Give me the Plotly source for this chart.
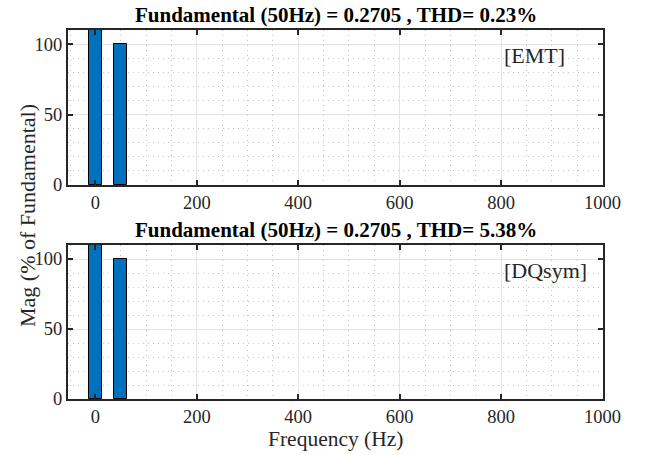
import plotly.graph_objects as go

# Data
freqs = [0, 50]
mag_emt = [150, 100]
mag_dq = [150, 100]
titles = ["Fundamental (50Hz) = 0.2705 , THD= 0.23%",
          "Fundamental (50Hz) = 0.2705 , THD= 5.38%"]
labels = ["[EMT]", "[DQsym]"]
x_ticks = [0, 200, 400, 600, 800, 1000]
y_ticks = [0, 50, 100]

W, H = 648, 455
serif = "Liberation Serif"
dark = "#262626"
bar_color = "#0072BD"

fig = go.Figure()
fig.add_trace(go.Bar(x=freqs, y=mag_emt, width=25, marker=dict(color=bar_color, line=dict(color="black", width=1)),
                     xaxis="x", yaxis="y", showlegend=False))
fig.add_trace(go.Bar(x=freqs, y=mag_dq, width=25, marker=dict(color=bar_color, line=dict(color="black", width=1)),
                     xaxis="x2", yaxis="y2", showlegend=False))

x0, x1 = 68 / W, 603 / W
doms = [(1 - 185 / H, 1 - 30 / H), (1 - 399 / H, 1 - 245 / H)]

def xax(anchor):
    return dict(domain=[x0, x1], range=[-54, 1001], anchor=anchor, tickvals=x_ticks, automargin=False,
                ticks="inside", ticklen=5, tickwidth=1.5, tickcolor=dark, mirror="allticks",
                showline=True, linecolor=dark, linewidth=2, showgrid=True, gridcolor="#e3e3e3", gridwidth=1,
                minor=dict(dtick=50, tick0=0, showgrid=True, gridcolor="#c4c4c4", griddash="1px,4px", gridwidth=1),
                tickfont=dict(family=serif, size=18.5, color=dark), zeroline=False)

def yax(anchor, dom):
    return dict(domain=list(dom), range=[0, 110], anchor=anchor, tickvals=y_ticks, automargin=False,
                ticks="inside", ticklen=5, tickwidth=1.5, tickcolor=dark, mirror="allticks",
                showline=True, linecolor=dark, linewidth=2, showgrid=True, gridcolor="#e3e3e3", gridwidth=1,
                minor=dict(dtick=10, tick0=0, showgrid=True, gridcolor="#c4c4c4", griddash="1px,4px", gridwidth=1),
                tickfont=dict(family=serif, size=18.5, color=dark), zeroline=False)

annotations = []
for i, (t, lab) in enumerate(zip(titles, labels)):
    xa = "x" if i == 0 else "x2"
    ya = "y" if i == 0 else "y2"
    top = doms[i][1]
    annotations.append(dict(text=t, xref="paper", yref="paper", x=(x0 + x1) / 2, y=top + 1 / H,
                            xanchor="center", yanchor="bottom", showarrow=False,
                            font=dict(family=serif, size=21, color="black", weight="bold")))
    annotations.append(dict(text=lab, xref=xa, yref=ya, x=802, y=102, xanchor="left", yanchor="top",
                            showarrow=False, font=dict(family=serif, size=22, color=dark)))

annotations.append(dict(text="Mag (% of Fundamental)", xref="paper", yref="paper", x=27 / W, y=1 - 216 / H,
                        xanchor="center", yanchor="middle", textangle=-90, showarrow=False,
                        font=dict(family=serif, size=22, color=dark)))
annotations.append(dict(text="Frequency (Hz)", xref="paper", yref="paper", x=(x0 + x1) / 2, y=1 - 439 / H,
                        xanchor="center", yanchor="middle", showarrow=False,
                        font=dict(family=serif, size=21.5, color=dark)))

fig.update_layout(
    width=W, height=H, margin=dict(l=0, r=0, t=0, b=0),
    paper_bgcolor="white", plot_bgcolor="white", bargap=0,
    xaxis=xax("y"), yaxis=yax("x", doms[0]),
    xaxis2=xax("y2"), yaxis2=yax("x2", doms[1]),
    annotations=annotations,
)

fig.write_html("out.html", config={"displayModeBar": False},
               post_script="document.body.style.margin='0';document.body.style.overflow='hidden';")
